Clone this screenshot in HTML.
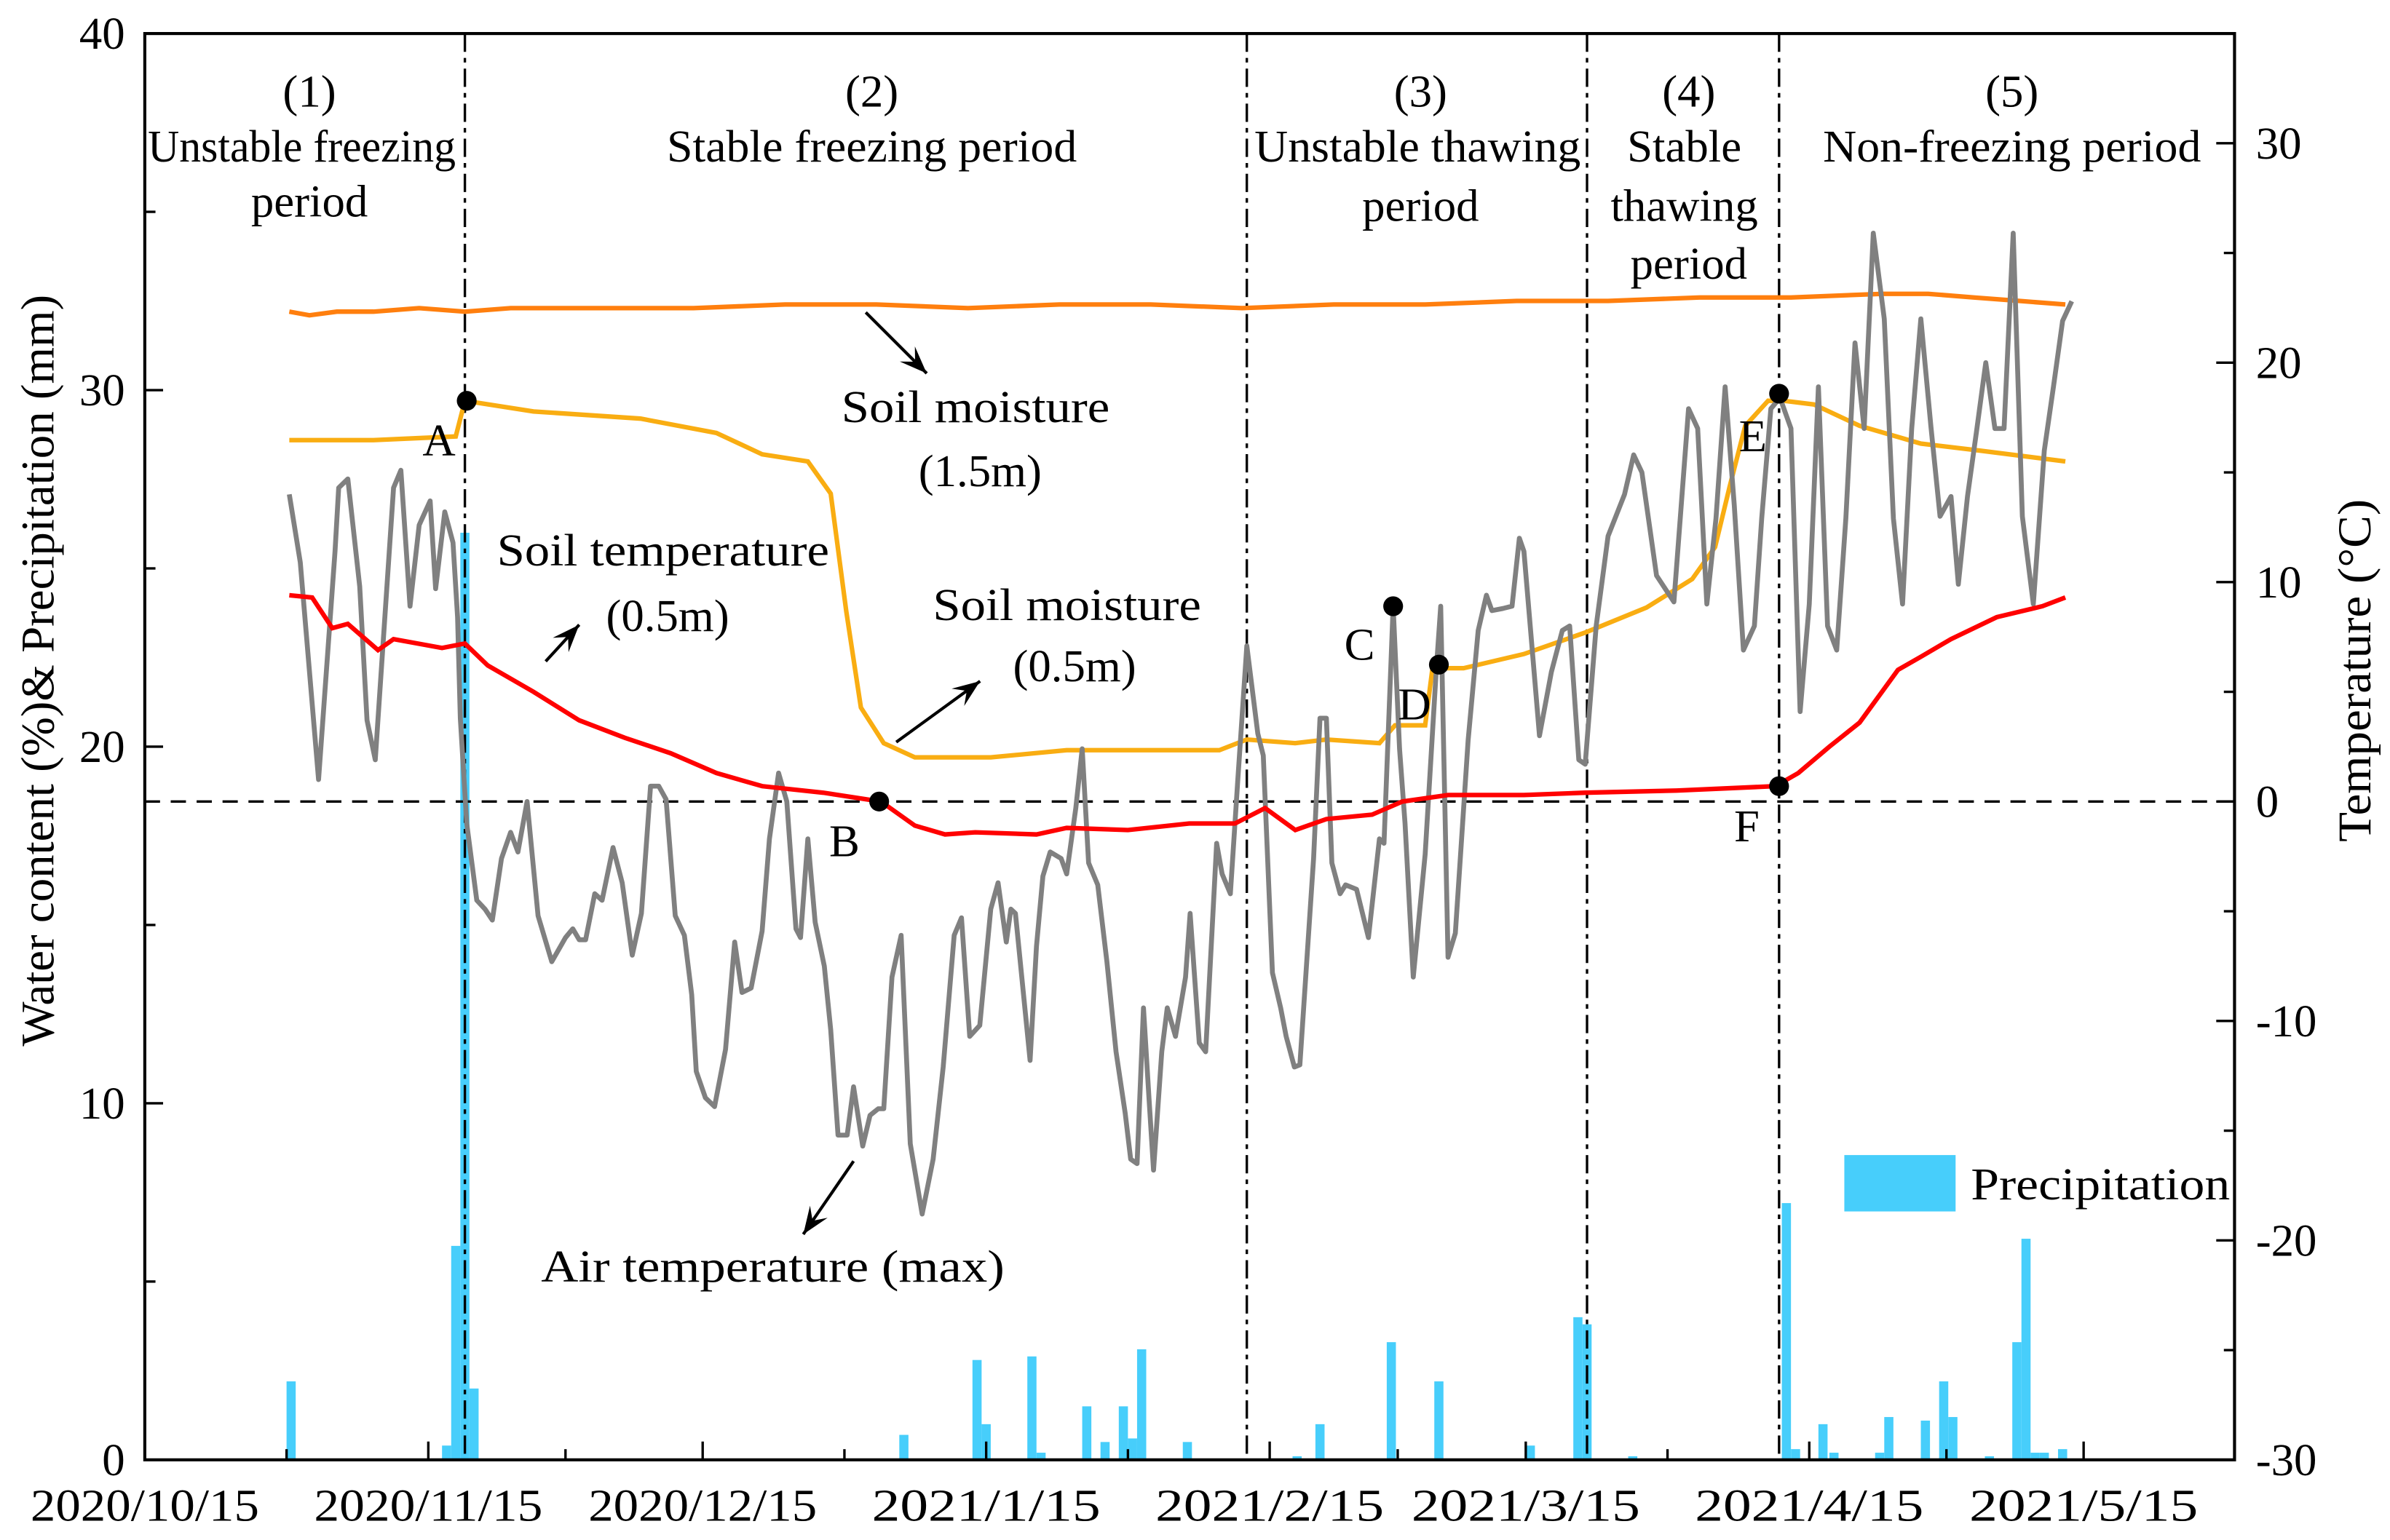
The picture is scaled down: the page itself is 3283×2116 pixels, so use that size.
<!DOCTYPE html>
<html><head><meta charset="utf-8"><style>
html,body{margin:0;padding:0;background:#fff}
svg{display:block}
text{font-family:"Liberation Serif",serif;fill:#000}
</style></head><body>
<svg id="chart" xmlns="http://www.w3.org/2000/svg" width="3283" height="2116" viewBox="0 0 1568 1010.6">
<g id="plot"></g>
</svg>
<script>
// ---- data (day = days since 2020/10/15) ----
const airDays=[15.8,17,19,20.8,21.2,22.2,23.5,24.3,25.2,27.2,28,29,30,31.2,31.8,32.8,33.7,34.2,34.5,35.2,36.3,37.2,38,39,40,40.8,41.8,43,44.5,46,46.8,47.5,48.2,49.2,50,51.2,52.2,53.3,54.3,55.3,56.2,57,58,59,59.8,60.3,61.3,62.3,63.5,64.5,65.3,66.3,67.5,68.3,69.3,70.2,71.2,71.7,72.5,73.3,74.3,75,75.8,76.8,77.5,78.5,79.3,80.2,80.8,81.7,82.7,83.7,85,86.2,87.3,88.5,89.3,90.2,91.3,92.5,93.3,94.2,94.7,95.2,96.3,96.8,97.5,98.2,99,100.2,100.8,101.8,102.5,103.2,104.2,105.2,106.2,107.2,107.8,108.5,109.2,109.8,110.3,111.2,111.8,112.7,113.8,114.3,115.3,116,117.2,117.8,118.7,119.5,120.5,121.7,122.3,123.3,124.2,124.8,125.7,126.3,127.8,128.5,129.2,129.8,130.7,131.3,132.5,133.8,135,135.5,136.5,137.2,137.8,138.7,140,141.2,141.7,142.5,143.3,144.7,145.8,146.7,147.3,148.5,149.5,150.3,150.8,152.5,153.8,155,155.8,156.8,157.5,158.7,160,161.8,162.8,163.7,165.3,167.2,168.8,169.8,170.8,171.8,172.8,173.8,174.8,176,176.8,177.8,178.8,180,181,182,183,184,185,186,187,188,189,190.2,191.2,192.2,193.2,194.2,195.3,196.3,197.5,198.3,199.3,200.3,201.3,202.3,203.3,204.3,205.3,206.5,207.7,208.7,209.7,210.7];
const airTemp=[14,10.9,1,11.4,14.3,14.7,9.8,3.7,1.9,14.3,15.1,8.9,12.6,13.7,9.7,13.2,11.8,8.4,3.8,-1,-4.5,-4.9,-5.4,-2.6,-1.4,-2.3,0,-5.2,-7.3,-6.2,-5.8,-6.3,-6.3,-4.2,-4.5,-2.1,-3.7,-7,-5.1,0.7,0.7,0.1,-5.2,-6.1,-8.8,-12.3,-13.5,-13.9,-11.3,-6.4,-8.7,-8.5,-5.9,-1.7,1.3,0,-5.8,-6.2,-1.7,-5.5,-7.5,-10.4,-15.2,-15.2,-13,-15.7,-14.3,-14,-14,-8,-6.1,-15.6,-18.8,-16.3,-12.1,-6.1,-5.3,-10.7,-10.2,-4.9,-3.7,-6.4,-4.9,-5.1,-9.7,-11.8,-6.6,-3.4,-2.3,-2.6,-3.3,-0.3,2.4,-2.8,-3.8,-7.3,-11.4,-14.2,-16.3,-16.5,-9.4,-13.5,-16.8,-11.4,-9.4,-10.7,-8,-5.1,-11,-11.4,-1.9,-3.3,-4.2,0.9,7.1,3.1,2.1,-7.8,-9.4,-10.7,-12.1,-12,-2.6,3.8,3.8,-2.8,-4.2,-3.8,-4,-6.2,-1.7,-1.9,8.9,2.4,-1,-8,-2.4,5.9,8.9,-7.1,-6,2.8,7.8,9.4,8.7,8.8,8.9,12,11.4,3,5.9,7.8,8,1.9,1.7,8,12.1,14,15.8,15,10.3,9.1,17.9,17,9,12.9,18.9,13.5,6.9,8,12.9,17.9,18.4,17,4.1,9,18.9,8,6.9,12.9,20.9,17,25.9,22,12.9,9,17,22,17.1,13,13.9,9.9,13.9,16.9,20,17,17,25.9,13,9,16,18.9,21.9,22.8];
const soilTDays=[15.8,18.3,20.5,22.2,25.5,27.2,32.5,35,37.5,42.5,47.5,52.5,57.5,62.5,67.5,74.2,80.5,84.2,87.5,90.8,97.5,100.8,107.5,114.2,119.2,122.5,125.8,129.2,134.2,137.5,142.5,150.8,157.5,167.5,178.3,180.8,184.2,187.5,191.7,194.2,197.5,202.5,207.5,210];
const soilTemp=[9.4,9.3,7.9,8.1,6.9,7.4,7,7.2,6.2,5,3.7,2.9,2.2,1.3,0.7,0.4,0,-1.1,-1.5,-1.4,-1.5,-1.2,-1.3,-1,-1,-0.3,-1.3,-0.8,-0.6,0,0.3,0.3,0.4,0.5,0.7,1.3,2.5,3.6,6,6.6,7.4,8.4,8.9,9.3];
const sm15Days=[15.8,18,21,25,30,35,40,50,60,70,80,90,100,110,120,130,140,150,160,170,175,180,190,195,200,205,210];
const sm15=[32.2,32.1,32.2,32.2,32.3,32.2,32.3,32.3,32.3,32.4,32.4,32.3,32.4,32.4,32.3,32.4,32.4,32.5,32.5,32.6,32.6,32.6,32.7,32.7,32.6,32.5,32.4];
const sm05Days=[15.8,25,34,35,42.5,54.2,62.5,67.5,72.5,75,76.7,78.3,80.8,84.2,92.5,100.8,109.2,117.5,120.5,125.8,129.2,135,136.7,140,140.8,144.2,150.8,157.5,164.2,169.2,171.7,173.3,175,177.5,179.2,182.5,187.5,194.2,200.8,210];
const sm05=[28.6,28.6,28.7,29.7,29.4,29.2,28.8,28.2,28,27.1,23.8,21.1,20.1,19.7,19.7,19.9,19.9,19.9,20.2,20.1,20.2,20.1,20.6,20.6,22.2,22.2,22.6,23.2,23.9,24.7,25.6,27.3,29,29.7,29.7,29.6,29,28.5,28.3,28];
const precipDays=[16,33,34,35,36,83,91,92,97,98,103,105,107,108,109,114,126,128.5,136.3,141.5,151.5,156.7,157.7,162.7,179.5,180.5,183.5,184.7,189.7,190.7,194.7,196.7,197.7,201.7,204.7,205.7,206.7,207.7,209.7];
const precip=[2.2,0.4,6,26,2,0.7,2.8,1,2.9,0.2,1.5,0.5,1.5,0.6,3.1,0.5,0.1,1,3.3,2.2,0.4,4,3.8,0.1,7.2,0.3,1,0.2,0.2,1.2,1.1,2.2,1.2,0.1,3.3,6.2,0.2,0.2,0.3];
const periodDays=[35,120.5,157.7,178.7];
const xTickLabels=["2020/10/15","2020/11/15","2020/12/15","2021/1/15","2021/2/15","2021/3/15","2021/4/15","2021/5/15"];
const xTickDays=[0,31,61,92,123,151,182,212];
const leftTicks=[0,10,20,30,40];
const rightTicks=[-30,-20,-10,0,10,20,30];
const markerNames=["A","B","C","D","E","F"];
const markerDays=[35.2,80.3,136.5,141.5,178.7,178.7];
const markerVals=[29.7,0,8.9,22.3,29.9,0.7];
const markerAxis=["L","R","R","L","L","R"];

// ---- axes ----
const X0=95,X1=1466,Y0=958,Y1=22;
const xs=d=>X0+d*6.0;
const yL=v=>Y0-(v/40)*(Y0-Y1);
const yR=v=>Y0-((v+30)/65)*(Y0-Y1);
const NS="http://www.w3.org/2000/svg";
const g=document.getElementById('plot');
function mk(tag,attrs,parent){const e=document.createElementNS(NS,tag);for(const k in attrs)e.setAttribute(k,attrs[k]);(parent||g).appendChild(e);return e;}
function pathFrom(ds,vs,yf){return ds.map((d,i)=>(i?'L':'M')+xs(d).toFixed(1)+','+yf(vs[i]).toFixed(1)).join('');}

precipDays.forEach((d,i)=>{
  const b=mk('rect',{x:xs(d)-3,y:yL(precip[i]),width:6,height:Y0-yL(precip[i]),fill:'#47cefb'});
  
  
});
const zl=mk('line',{x1:X0,x2:X1,y1:yR(0),y2:yR(0),stroke:'#000','stroke-width':1.6,'stroke-dasharray':'10,7'});


periodDays.forEach(d=>{
  const l=mk('line',{x1:xs(d),x2:xs(d),y1:Y1,y2:Y0,stroke:'#000','stroke-width':1.6,'stroke-dasharray':'12,4,3,4'});
  
  
});
const s1=mk('path',{d:pathFrom(sm15Days,sm15,yL),fill:'none',stroke:'#ff7f0e','stroke-width':3});


const s2=mk('path',{d:pathFrom(sm05Days,sm05,yL),fill:'none',stroke:'#f9ad12','stroke-width':3});


const s3=mk('path',{d:pathFrom(airDays,airTemp,yR),fill:'none',stroke:'#808080','stroke-width':3.2,'stroke-linejoin':'round'});


const s4=mk('path',{d:pathFrom(soilTDays,soilTemp,yR),fill:'none',stroke:'#ff0000','stroke-width':3});


markerNames.forEach((n,i)=>{
  const yy=markerAxis[i]==='L'?yL(markerVals[i]):yR(markerVals[i]);
  const c=mk('circle',{cx:xs(markerDays[i]),cy:yy,r:6.5,fill:'#000'});
  
  
});
const fr=mk('rect',{x:X0,y:Y1,width:X1-X0,height:Y0-Y1,fill:'none',stroke:'#000','stroke-width':2});


for(let m=0;m<8;m++){
  const d=xTickDays[m];
  mk('line',{x1:xs(d),x2:xs(d),y1:Y0,y2:Y0-12,stroke:'#000','stroke-width':1.6});
  if(m<7){const dm=(xTickDays[m]+xTickDays[m+1])/2;mk('line',{x1:xs(dm),x2:xs(dm),y1:Y0,y2:Y0-7,stroke:'#000','stroke-width':1.6});}
  const t=mk('text',{x:xs(d),y:998,'text-anchor':'middle','font-size':30,textLength:150,lengthAdjust:'spacingAndGlyphs'});
  t.textContent=xTickLabels[m];
  
  
}
leftTicks.forEach(v=>{
  mk('line',{x1:X0,x2:X0+12,y1:yL(v),y2:yL(v),stroke:'#000','stroke-width':1.6});
  if(v<40)mk('line',{x1:X0,x2:X0+7,y1:yL(v+5),y2:yL(v+5),stroke:'#000','stroke-width':1.6});
  const t=mk('text',{x:82,y:yL(v)+10,'text-anchor':'end','font-size':30});
  t.textContent=v;
  
  
});
rightTicks.forEach(v=>{
  mk('line',{x1:X1,x2:X1-12,y1:yR(v),y2:yR(v),stroke:'#000','stroke-width':1.6});
  mk('line',{x1:X1,x2:X1-7,y1:yR(v+5),y2:yR(v+5),stroke:'#000','stroke-width':1.6});
  const t=mk('text',{x:1480,y:yR(v)+10,'text-anchor':'start','font-size':30});
  t.textContent=v;
  
  
});
</script>
<script>
(function(){
const NS="http://www.w3.org/2000/svg";const g=document.getElementById('plot');
const labels=[
["(1)",203,70,"period-1-number",0],["Unstable freezing",198,106,"period-1-label",202],["period",203,142,"period-1-label-2",0],
["(2)",572,70,"period-2-number",0],["Stable freezing period",572,106,"period-2-label",269],
["(3)",932,70,"period-3-number",0],["Unstable thawing",930,106,"period-3-label",214],["period",932,145,"period-3-label-2",0],
["(4)",1108,70,"period-4-number",0],["Stable",1105,106,"period-4-label",0],["thawing",1105,145,"period-4-label-2",0],["period",1108,183,"period-4-label-3",0],
["(5)",1320,70,"period-5-number",0],["Non-freezing period",1320,106,"period-5-label",248],
["Soil moisture",640,277,"soil-moisture-1-5m-label",176],["(1.5m)",643,319,"soil-moisture-1-5m-depth",0],
["Soil temperature",435,371,"soil-temperature-label",218],["(0.5m)",438,414,"soil-temperature-depth",0],
["Soil moisture",700,407,"soil-moisture-0-5m-label",176],["(0.5m)",705,447,"soil-moisture-0-5m-depth",0],
["Air temperature  (max)",507,841,"air-temperature-label",304],
["A",288,299,"label-a",0],["B",554,562,"label-b",0],["C",892,433,"label-c",0],["D",928,472,"label-d",0],["E",1150,296,"label-e",0],["F",1146,552,"label-f",0],
["Precipitation",1293,787,"legend-label",170]];
labels.forEach(l=>{const t=document.createElementNS(NS,'text');t.setAttribute('x',l[1]);t.setAttribute('y',l[2]);t.setAttribute('text-anchor',l[3]==='legend-label'?'start':'middle');t.setAttribute('font-size',30);
if(l[4]){t.setAttribute('textLength',l[4]);t.setAttribute('lengthAdjust','spacingAndGlyphs');}
t.textContent=l[0];


g.appendChild(t);});
})();
</script>
<script>
(function(){
const NS="http://www.w3.org/2000/svg";const g=document.getElementById('plot');
const lg=document.createElementNS(NS,'rect');lg.setAttribute('x',1210);lg.setAttribute('y',758);lg.setAttribute('width',73);lg.setAttribute('height',37);lg.setAttribute('fill','#47cefb');


g.appendChild(lg);
const arrows=[[568,205,608,245],[358,434,380,410],[588,487,643,447],[560,762,527,810]];
arrows.forEach(a=>{const [x1,y1,x2,y2]=a;const l=document.createElementNS(NS,'line');l.setAttribute('x1',x1);l.setAttribute('y1',y1);l.setAttribute('x2',x2);l.setAttribute('y2',y2);l.setAttribute('stroke','#000');l.setAttribute('stroke-width',2);


g.appendChild(l);
const ang=Math.atan2(y2-y1,x2-x1),L=18,W=7;
const p=[[x2,y2],[x2-L*Math.cos(ang)+W*Math.sin(ang),y2-L*Math.sin(ang)-W*Math.cos(ang)],[x2-L*0.6*Math.cos(ang),y2-L*0.6*Math.sin(ang)],[x2-L*Math.cos(ang)-W*Math.sin(ang),y2-L*Math.sin(ang)+W*Math.cos(ang)]];
const h=document.createElementNS(NS,'polygon');h.setAttribute('points',p.map(q=>q.join(',')).join(' '));h.setAttribute('fill','#000');


g.appendChild(h);});
const t1=document.createElementNS(NS,'text');t1.setAttribute('transform','translate(35,440) rotate(-90)');t1.setAttribute('text-anchor','middle');t1.setAttribute('font-size',31);t1.textContent='Water content (%)& Precipitation (mm)';


g.appendChild(t1);
const t2=document.createElementNS(NS,'text');t2.setAttribute('transform','translate(1555,440) rotate(-90)');t2.setAttribute('text-anchor','middle');t2.setAttribute('font-size',31);t2.setAttribute('textLength',225);t2.setAttribute('lengthAdjust','spacingAndGlyphs');t2.textContent='Temperature (°C)';


g.appendChild(t2);
})();
</script>
</body></html>
